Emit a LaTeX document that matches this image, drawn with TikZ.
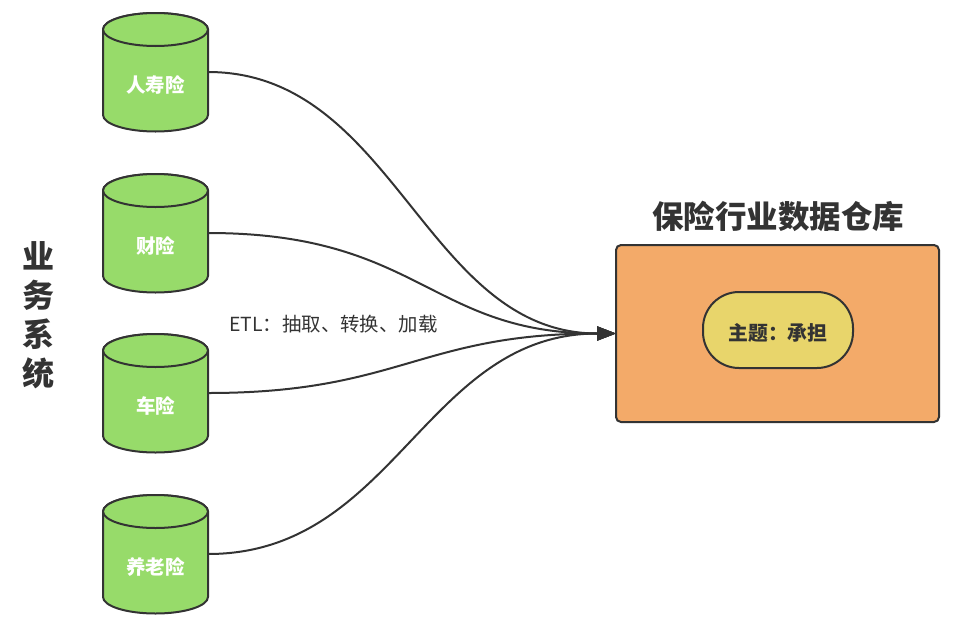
\documentclass[tikz,border=0pt]{standalone}
\usepackage{fontspec}
\setmainfont{Noto Sans CJK SC}
\usetikzlibrary{arrows.meta}
\definecolor{ink}{HTML}{333333}
\definecolor{dbgreen}{HTML}{97DB6A}
\definecolor{whorange}{HTML}{F3AA69}
\definecolor{pillyellow}{HTML}{E8D56B}
\tikzset{
  cylbody/.style={draw=ink,fill=dbgreen,line width=2pt},
  cylanchor/.style={minimum width=105pt,minimum height=118pt,inner sep=0pt,outer sep=0pt},
  cyltext/.style={text=white,font=\fontsize{19.5pt}{22pt}\selectfont\bfseries,inner sep=0pt},
  whbox/.style={draw=ink,line width=2pt,fill=whorange,rounded corners=5pt,minimum width=323pt,minimum height=177pt,inner sep=0pt,outer sep=0pt},
  pillbox/.style={draw=ink,line width=2pt,fill=pillyellow,rounded corners=36pt,minimum width=150pt,minimum height=76pt,inner sep=0pt},
  pilltext/.style={inner sep=0pt,font=\fontsize{19.8pt}{22pt}\selectfont\bfseries,text=ink},
  bigtitle/.style={text=ink,font=\fontsize{31.5pt}{36pt}\selectfont\bfseries,inner sep=0pt},
  etltext/.style={text=ink,font=\fontsize{19.4pt}{22pt}\selectfont,inner sep=0pt},
  flow/.style={draw=ink,line width=2pt,-{Triangle[length=19pt,width=14pt]}}
}
\newcommand{\dbcyl}[3]{%
  \begin{scope}[shift={(155.5,#1)}]
    \path[cylbody] (-52.5,-42.5) -- (-52.5,43) arc[start angle=180,end angle=0,x radius=52.5,y radius=16.5] -- (52.5,-42.5) arc[start angle=0,end angle=-180,x radius=52.5,y radius=16.5] -- cycle;
    \path[cylbody] (-52.5,-42.5) arc[start angle=180,end angle=-180,x radius=52.5,y radius=16.5];
  \end{scope}
  \node[cylanchor] (#2) at (155.5,#1) {};
  \node[cyltext] (#2t) at (155.5,#1+13) {#3};
}
\begin{document}
\begin{tikzpicture}[x=1pt,y=-1pt]
\useasboundingbox (0,0) rectangle (963,627);
\dbcyl{72}{a}{人寿险}
\dbcyl{233}{b}{财险}
\dbcyl{393}{c}{车险}
\dbcyl{554}{d}{养老险}
\node[whbox] (wh) at (777.5,333.5) {};
\node[pillbox] (topic) at (778,330) {};
\node[pilltext] (topict) at (778,333) {主题：承担};
\node[bigtitle] (title) at (778,216) {保险行业数据仓库};
\node[etltext] (etl) at (333.5,324) {ETL：抽取、转换、加载};
\node[bigtitle,align=center,font=\fontsize{32pt}{39pt}\selectfont\bfseries] (side) at (38,315) {业\\务\\系\\统};
\draw[flow] (a.east) .. controls (395,72) and (425,333.5) .. (wh.west);
\draw[flow] (b.east) .. controls (420,233) and (430,333.5) .. (wh.west);
\draw[flow] (c.east) .. controls (400,393) and (420,333.5) .. (wh.west);
\draw[flow] (d.east) .. controls (395,554) and (425,333.5) .. (wh.west);
\end{tikzpicture}
\end{document}
